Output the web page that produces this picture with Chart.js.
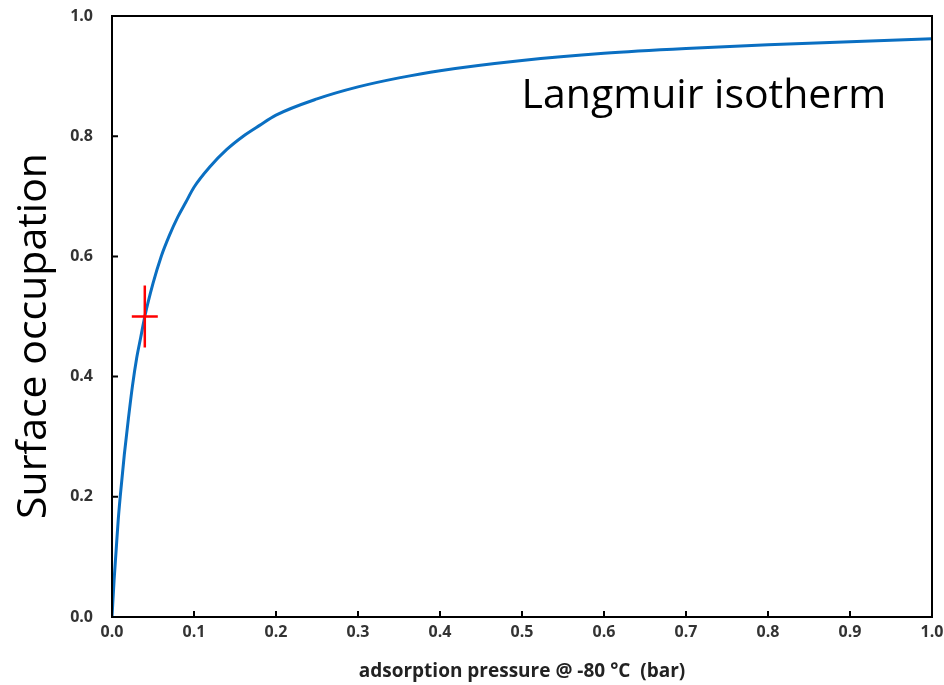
<!DOCTYPE html>
<html>
<head>
<meta charset="utf-8">
<script src="https://cdn.jsdelivr.net/npm/chart.js@4"></script>
<style>
html,body{margin:0;padding:0;background:#fff;}
#wrap{width:944px;height:685px;position:relative;}
</style>
</head>
<body>
<div id="wrap"><canvas id="c" width="944" height="685"></canvas></div>
<script>
// Data
const pressure = [0, 0.0025, 0.005, 0.0075, 0.01, 0.015, 0.02, 0.025, 0.03, 0.035, 0.04, 0.05, 0.06, 0.07, 0.08, 0.09, 0.10, 0.12, 0.14, 0.16, 0.18, 0.20, 0.25, 0.30, 0.35, 0.40, 0.50, 0.60, 0.70, 0.80, 0.90, 1.00];
const occupation = [0, 0.06, 0.11, 0.16, 0.20, 0.27, 0.33, 0.385, 0.43, 0.465, 0.50, 0.555, 0.60, 0.635, 0.665, 0.69, 0.715, 0.75, 0.778, 0.80, 0.818, 0.835, 0.862, 0.882, 0.897, 0.909, 0.926, 0.938, 0.946, 0.952, 0.957, 0.962];
const markerPoint = [0.04, 0.5];
const xTicks = [0, 0.1, 0.2, 0.3, 0.4, 0.5, 0.6, 0.7, 0.8, 0.9, 1.0];
const yTicks = [0, 0.2, 0.4, 0.6, 0.8, 1.0];
const curveLabel = 'Langmuir isotherm';
const yTitle = 'Surface occupation';
const xTitle = 'adsorption pressure @ -80 °C  (bar)';

const curve = pressure.map((p, i) => ({x: p, y: occupation[i]}));
const mark = [{x: markerPoint[0], y: markerPoint[1]}];

const framePlugin = {
  id: 'frame',
  afterDraw(chart) {
    const {ctx, chartArea: a, scales} = chart;
    ctx.save();
    ctx.strokeStyle = '#000';
    ctx.lineWidth = 2;
    ctx.strokeRect(a.left, a.top, a.right - a.left, a.bottom - a.top);
    ctx.beginPath();
    xTicks.forEach(v => {
      const px = scales.x.getPixelForValue(v);
      ctx.moveTo(px, a.bottom); ctx.lineTo(px, a.bottom - 6);
    });
    yTicks.forEach(v => {
      const py = scales.y.getPixelForValue(v);
      ctx.moveTo(a.left, py); ctx.lineTo(a.left + 6, py);
    });
    ctx.stroke();
    // curve label
    ctx.fillStyle = '#000';
    ctx.font = '41px "Open Sans"';
    ctx.textBaseline = 'alphabetic';
    ctx.textAlign = 'left';
    ctx.fillText(curveLabel, scales.x.getPixelForValue(0.4995), scales.y.getPixelForValue(0.847));
    // y title
    ctx.translate(34, 336);
    ctx.rotate(-Math.PI / 2);
    ctx.textAlign = 'center';
    ctx.textBaseline = 'middle';
    ctx.fillText(yTitle, 0, 0);
    ctx.restore();
  }
};

new Chart(document.getElementById('c'), {
  type: 'scatter',
  data: {
    datasets: [
      {
        data: curve, showLine: true, borderColor: '#0a6fc2', borderWidth: 3,
        pointRadius: 0, cubicInterpolationMode: 'monotone', fill: false, order: 2
      },
      {
        data: mark, pointStyle: 'line', pointRadius: 13, borderColor: '#ff0000',
        pointBorderWidth: 2.5, borderWidth: 2.5, showLine: false, order: 1
      },
      {
        data: mark, pointStyle: 'line', pointRotation: 90, pointRadius: 31, borderColor: '#ff0000',
        pointBorderWidth: 2.5, borderWidth: 2.5, showLine: false, order: 1
      }
    ]
  },
  options: {
    responsive: false,
    animation: false,
    layout: {autoPadding: false, padding: {left: 0, right: 12, top: 16, bottom: 0}},
    plugins: {legend: {display: false}, tooltip: {enabled: false}},
    scales: {
      x: {
        type: 'linear', min: 0, max: 1,
        afterFit(s) { s.height = 68; s.paddingLeft = 0; s.paddingRight = 0; },
        afterBuildTicks(s) { s.ticks = xTicks.map(v => ({value: v})); },
        grid: {display: false, drawTicks: false},
        border: {display: false},
        ticks: {
          padding: 6, color: '#333',
          font: {family: '"Open Sans"', size: 16, weight: 'bold'},
          callback: v => v.toFixed(1), maxRotation: 0
        },
        title: {
          display: true, text: xTitle, color: '#222',
          font: {family: '"Open Sans"', size: 19, weight: 'bold'},
          padding: {top: 0, bottom: 2}
        }
      },
      y: {
        type: 'linear', min: 0, max: 1,
        afterFit(s) { s.width = 112; s.paddingTop = 0; s.paddingBottom = 0; },
        afterBuildTicks(s) { s.ticks = yTicks.map(v => ({value: v})); },
        grid: {display: false, drawTicks: false},
        border: {display: false},
        ticks: {
          padding: 19, color: '#333',
          font: {family: '"Open Sans"', size: 16, weight: 'bold'},
          callback: v => v.toFixed(1)
        }
      }
    }
  },
  plugins: [framePlugin]
});
</script>
</body>
</html>
